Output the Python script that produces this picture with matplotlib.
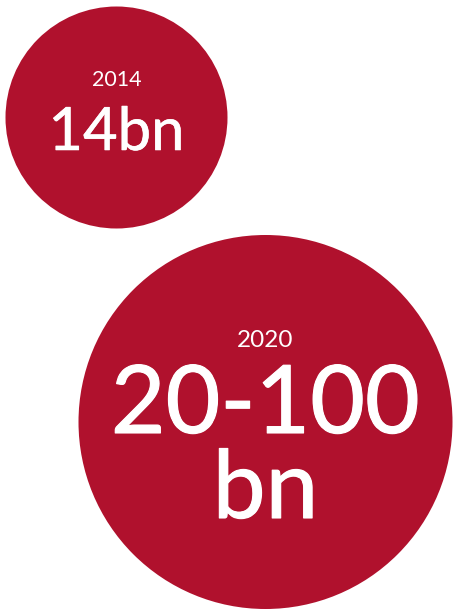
import matplotlib
matplotlib.use("Agg")
import matplotlib.pyplot as plt
import matplotlib.patheffects as pe
from matplotlib.patches import Circle

# data
years = ["2014", "2020"]
labels = [["14bn"], ["20-100", "bn"]]
radii = [111, 187]

# layout (pixels, y down)
centers = [(116.5, 117.5), (265.5, 422)]
year_baselines = [85.5, 347]
label_baselines = [[150], [433, 518]]
year_sizes = [15.5, 17.5]
label_sizes = [[43], [68, 68]]
label_strokes = [[0.4], [0.8, 0.8]]
red = "#B0112D"

fig = plt.figure(figsize=(4.54, 6.10), dpi=100)
ax = fig.add_axes([0, 0, 1, 1])
ax.set_xlim(0, 454)
ax.set_ylim(610, 0)
ax.set_aspect("equal")
ax.axis("off")

for i in range(len(years)):
    cx, cy = centers[i]
    ax.add_patch(Circle((cx, cy), radii[i], color=red, lw=0))
    ax.text(cx, year_baselines[i], years[i], color="white", family="Lato",
            fontsize=year_sizes[i], ha="center", va="baseline")
    for lab, yb, fs, sw in zip(labels[i], label_baselines[i], label_sizes[i], label_strokes[i]):
        ax.text(cx, yb, lab, color="white", family="Lato",
                fontsize=fs, ha="center", va="baseline",
                path_effects=[pe.withStroke(linewidth=sw, foreground="white")])

fig.savefig("out.png", dpi=100)
